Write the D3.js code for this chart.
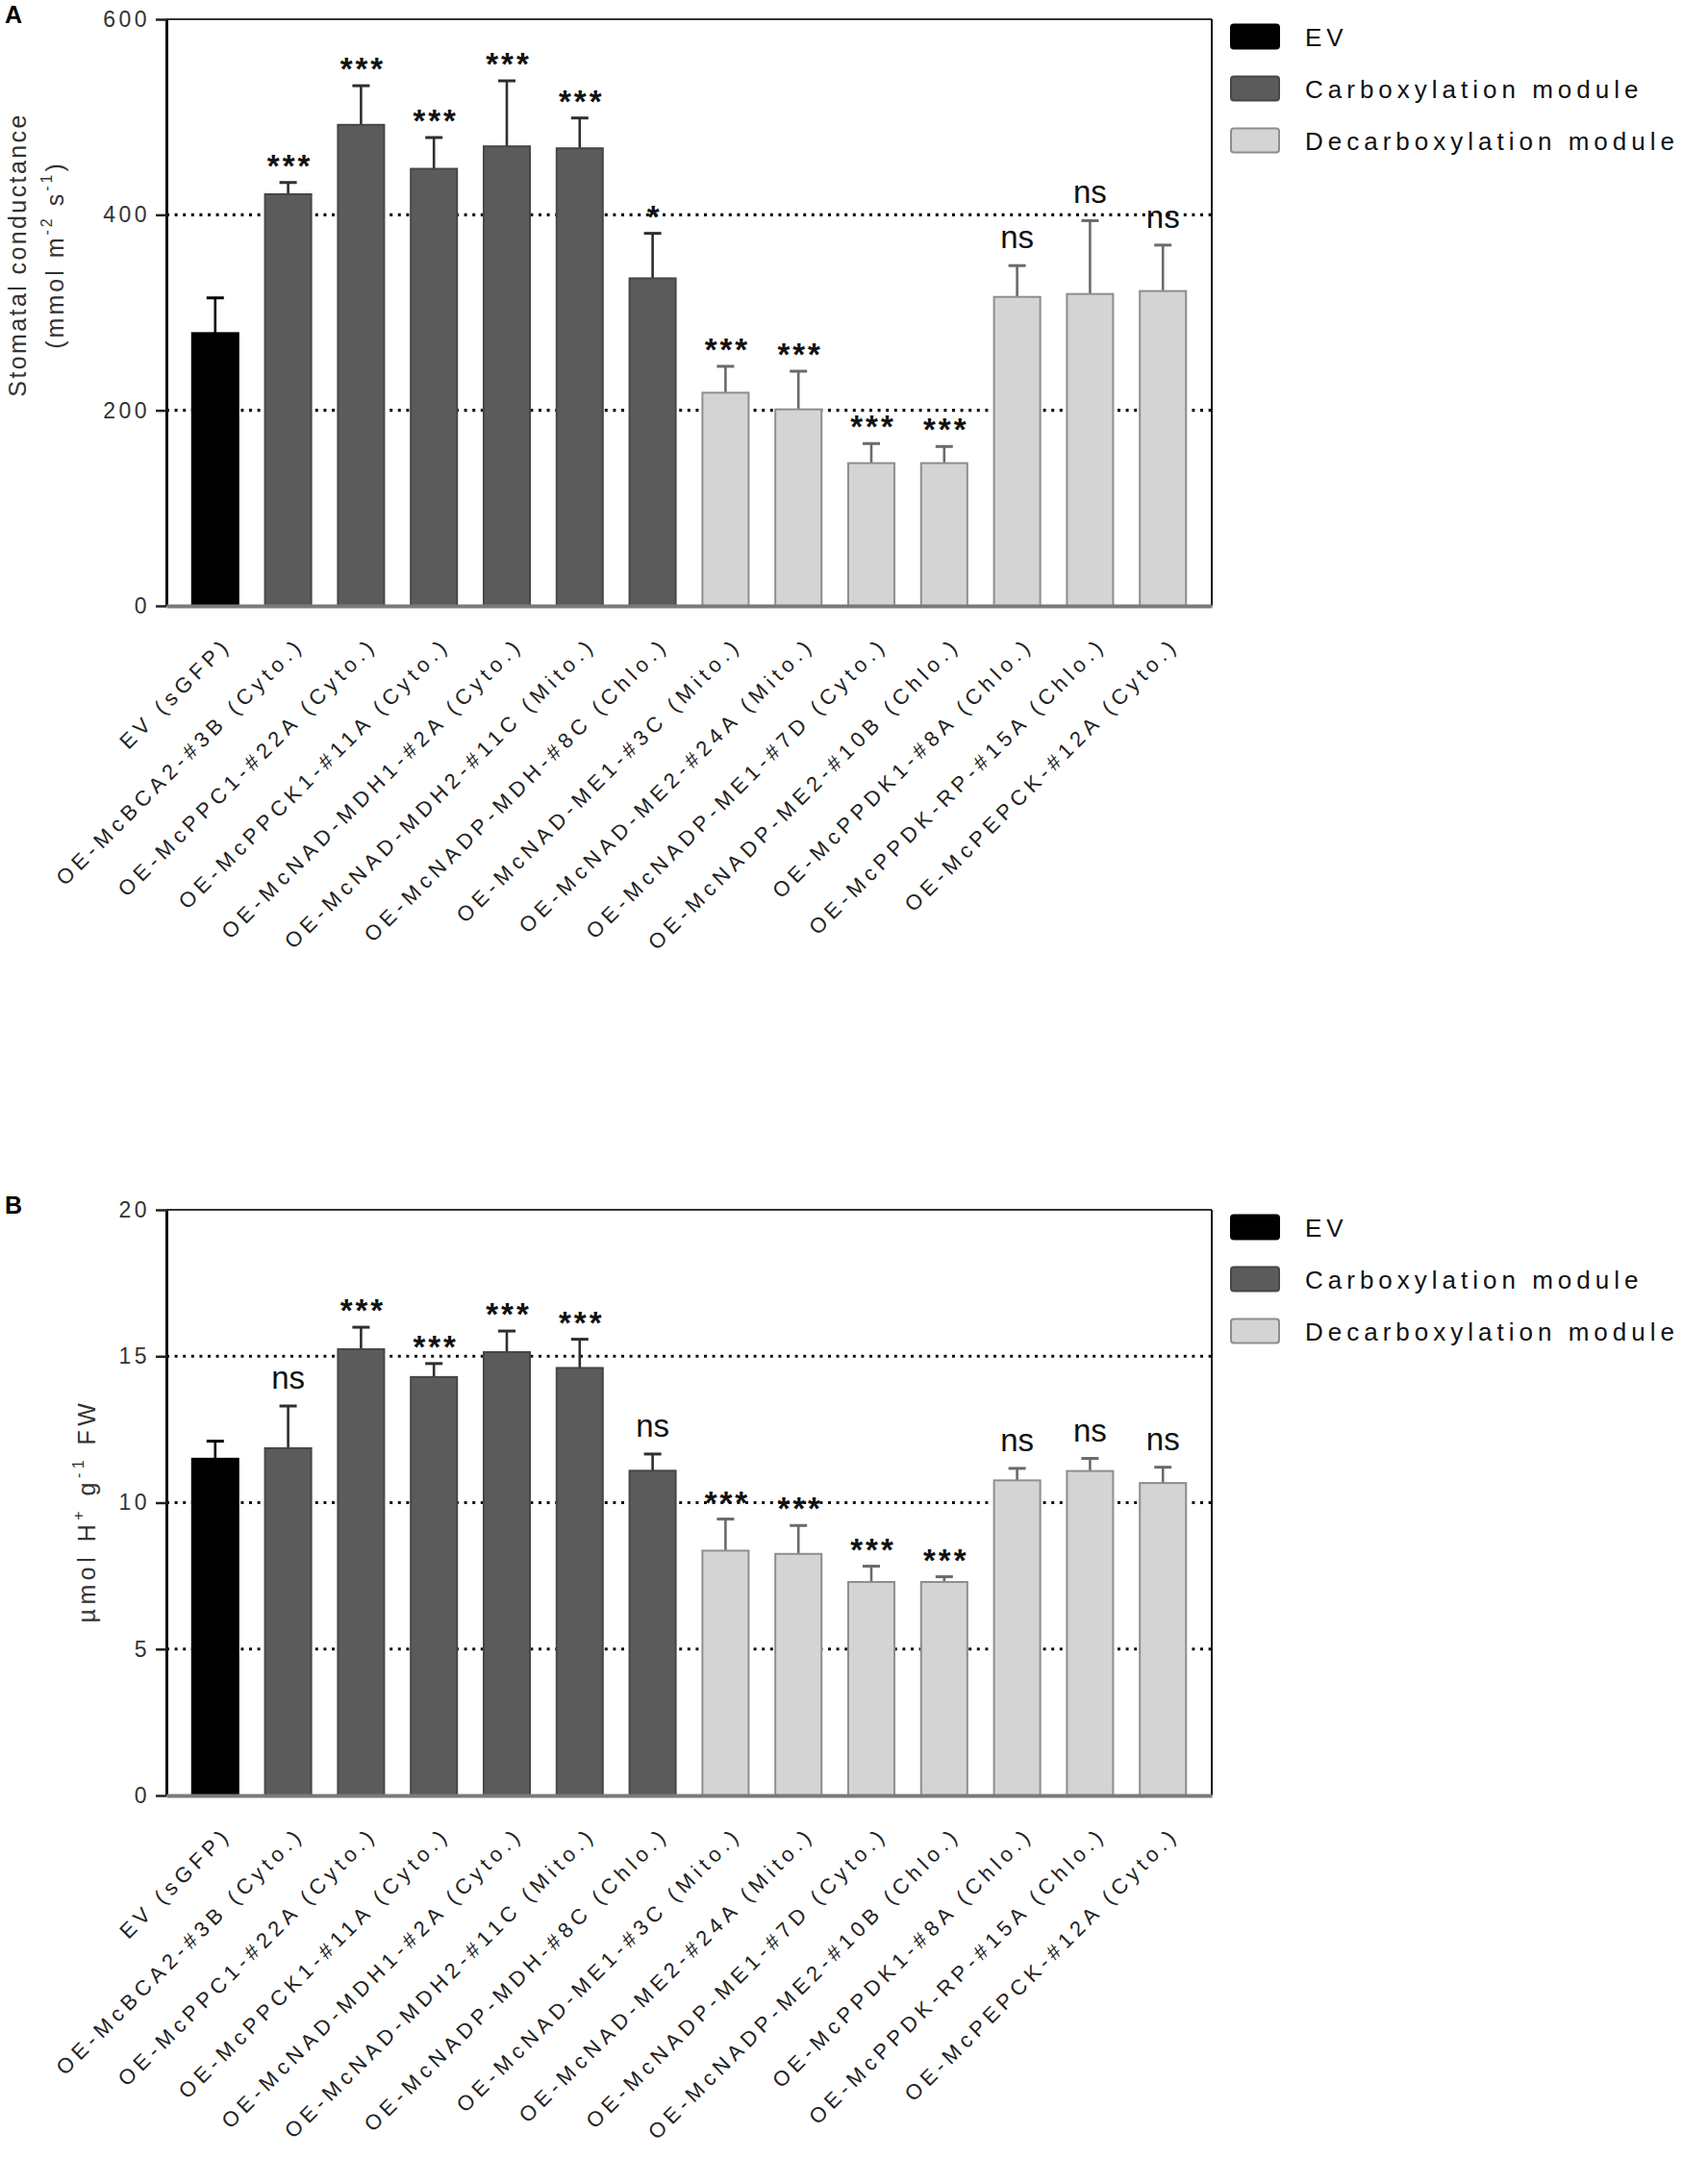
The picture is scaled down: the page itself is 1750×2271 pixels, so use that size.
<!DOCTYPE html>
<html>
<head>
<meta charset="utf-8">
<script src="https://cdn.jsdelivr.net/npm/d3@7"></script>
<style>
  html, body { margin: 0; padding: 0; background: #fff; }
  svg { display: block; }
  text { font-family: "Liberation Sans", Arial, Helvetica, sans-serif; }
</style>
</head>
<body>
<svg id="chart" width="1750" height="2271"></svg>
<script>
// ---------------- DATA ----------------
const categories = [
  "EV (sGFP)",
  "OE-McBCA2-#3B (Cyto.)",
  "OE-McPPC1-#22A (Cyto.)",
  "OE-McPPCK1-#11A (Cyto.)",
  "OE-McNAD-MDH1-#2A (Cyto.)",
  "OE-McNAD-MDH2-#11C (Mito.)",
  "OE-McNADP-MDH-#8C (Chlo.)",
  "OE-McNAD-ME1-#3C (Mito.)",
  "OE-McNAD-ME2-#24A (Mito.)",
  "OE-McNADP-ME1-#7D (Cyto.)",
  "OE-McNADP-ME2-#10B (Chlo.)",
  "OE-McPPDK1-#8A (Chlo.)",
  "OE-McPPDK-RP-#15A (Chlo.)",
  "OE-McPEPCK-#12A (Cyto.)"
];
const modules = ["EV", "Carboxylation module", "Decarboxylation module"];
const categoryModule = [
  "EV",
  "Carboxylation module", "Carboxylation module", "Carboxylation module",
  "Carboxylation module", "Carboxylation module", "Carboxylation module",
  "Decarboxylation module", "Decarboxylation module", "Decarboxylation module",
  "Decarboxylation module", "Decarboxylation module", "Decarboxylation module",
  "Decarboxylation module"
];

// Panel A: stomatal conductance (mmol m-2 s-1)
const conductance    = [279, 421, 492, 447, 470, 468, 335, 218, 201, 146, 146, 316, 319, 322];
const conductanceErr = [36, 12, 40, 32, 67, 31, 46, 27, 39, 20, 17, 32, 75, 47];
const conductanceSig = ["", "***", "***", "***", "***", "***", "*", "***", "***", "***", "***", "ns", "ns", "ns"];
const conductanceTicks = [0, 200, 400, 600];
const conductanceGrid  = [200, 400];

// Panel B: titratable acidity (umol H+ g-1 FW)
const acidity    = [11.50, 11.86, 15.24, 14.29, 15.14, 14.60, 11.09, 8.36, 8.25, 7.29, 7.29, 10.76, 11.08, 10.67];
const acidityErr = [0.60, 1.44, 0.75, 0.46, 0.72, 0.98, 0.57, 1.08, 0.97, 0.54, 0.18, 0.41, 0.43, 0.54];
const aciditySig = ["", "ns", "***", "***", "***", "***", "ns", "***", "***", "***", "***", "ns", "ns", "ns"];
const acidityTicks = [0, 5, 10, 15, 20];
const acidityGrid  = [5, 10, 15];

// ---------------- STYLE ----------------
const fillOf   = d3.scaleOrdinal().domain(modules).range(["#000000", "#5b5b5b", "#d4d4d4"]);
const strokeOf = d3.scaleOrdinal().domain(modules).range(["#000000", "#474747", "#8e8e8e"]);
const errOf    = d3.scaleOrdinal().domain(modules).range(["#000000", "#2e2e2e", "#6a6a6a"]);

const svg = d3.select("#chart");
svg.append("rect").attr("width", 1750).attr("height", 2271).attr("fill", "#fff");

const plotLeft = 173, plotRight = 1260;

function drawPanel(cfg) {
  const g = svg.append("g");
  const x = d3.scaleBand().domain(categories).range([plotLeft, plotRight])
    .paddingInner(0.34).paddingOuter(0.34);
  const y = d3.scaleLinear().domain([0, cfg.max]).range([cfg.bottom, cfg.top]);

  // dotted reference lines (behind bars)
  g.selectAll(".grid").data(cfg.grid).join("line")
    .attr("x1", plotLeft).attr("x2", plotRight)
    .attr("y1", d => y(d)).attr("y2", d => y(d))
    .attr("stroke", "#111").attr("stroke-width", 3.2)
    .attr("stroke-dasharray", "3,5.6");

  // frame top & right
  g.append("line").attr("x1", plotLeft).attr("x2", plotRight)
    .attr("y1", y(cfg.max)).attr("y2", y(cfg.max))
    .attr("stroke", "#333").attr("stroke-width", 2);
  g.append("line").attr("x1", plotRight).attr("x2", plotRight)
    .attr("y1", y(cfg.max)).attr("y2", y(0))
    .attr("stroke", "#111").attr("stroke-width", 2);

  const data = categories.map((c, i) => ({
    c, v: cfg.values[i], e: cfg.errs[i], s: cfg.sig[i], m: categoryModule[i]
  }));

  // error bars
  const eb = g.selectAll(".err").data(data).join("g");
  eb.append("line")
    .attr("x1", d => x(d.c) + x.bandwidth() / 2).attr("x2", d => x(d.c) + x.bandwidth() / 2)
    .attr("y1", d => y(d.v)).attr("y2", d => y(d.v + d.e))
    .attr("stroke", d => errOf(d.m)).attr("stroke-width", 2.6);
  eb.append("line")
    .attr("x1", d => x(d.c) + x.bandwidth() / 2 - 9).attr("x2", d => x(d.c) + x.bandwidth() / 2 + 9)
    .attr("y1", d => y(d.v + d.e)).attr("y2", d => y(d.v + d.e))
    .attr("stroke", d => errOf(d.m)).attr("stroke-width", 3);

  // bars
  g.selectAll(".bar").data(data).join("rect")
    .attr("x", d => x(d.c) + 1).attr("width", x.bandwidth() - 2)
    .attr("y", d => y(d.v)).attr("height", d => y(0) - y(d.v))
    .attr("fill", d => fillOf(d.m))
    .attr("stroke", d => strokeOf(d.m)).attr("stroke-width", 2);

  // significance labels
  g.selectAll(".sig").data(data.filter(d => d.s)).join("text")
    .attr("x", d => x(d.c) + x.bandwidth() / 2 + (d.s === "ns" ? 0 : 2))
    .attr("y", d => y(d.v + d.e) - (d.s === "ns" ? 18 : 6))
    .attr("text-anchor", "middle")
    .attr("font-size", d => d.s === "ns" ? 33 : 33)
    .attr("font-weight", d => d.s === "ns" ? "normal" : "bold")
    .attr("letter-spacing", d => d.s === "ns" ? 0 : 3)
    .attr("fill", "#111")
    .text(d => d.s);

  // left axis
  const ya = g.append("g").attr("transform", `translate(${plotLeft},0)`)
    .call(d3.axisLeft(y).tickValues(cfg.ticks).tickSize(11).tickPadding(9).tickSizeOuter(0));
  ya.select(".domain").attr("stroke", "#111").attr("stroke-width", 3);
  ya.selectAll(".tick line").attr("stroke", "#222").attr("stroke-width", 2.5);
  ya.selectAll(".tick text").attr("font-size", 23).attr("letter-spacing", 3.5)
    .attr("fill", "#333").attr("dx", 3)
    .style("font-family", "'Liberation Sans', Arial, sans-serif");

  // bottom axis
  const xa = g.append("g").attr("transform", `translate(0,${y(0)})`)
    .call(d3.axisBottom(x).tickSize(0).tickSizeOuter(0));
  xa.select(".domain").attr("stroke", "#7a7a7a").attr("stroke-width", 4);
  xa.selectAll(".tick text")
    .attr("x", 0).attr("y", 0).attr("dy", 0)
    .attr("text-anchor", "end")
    .attr("transform", "translate(18,42) rotate(-45)")
    .attr("font-size", 22).attr("letter-spacing", 5.2)
    .attr("fill", "#222")
    .style("font-family", "'Liberation Sans', Arial, sans-serif");

  // legend
  const lg = g.append("g");
  modules.forEach((m, i) => {
    const cy = cfg.top + 18 + i * 54;
    lg.append("rect").attr("x", 1280).attr("y", cy - 12.5).attr("width", 50).attr("height", 25)
      .attr("rx", 3)
      .attr("fill", fillOf(m)).attr("stroke", strokeOf(m)).attr("stroke-width", 2);
    lg.append("text").attr("x", 1357).attr("y", cy + 9.5)
      .attr("font-size", 26).attr("letter-spacing", 5).attr("fill", "#111").text(m);
  });

  // panel letter
  g.append("text").attr("x", 5).attr("y", cfg.top + 4).attr("font-size", 25)
    .attr("font-weight", "bold").attr("fill", "#000").text(cfg.letter);

  cfg.title(g, y);
}

drawPanel({
  letter: "A", top: 20, bottom: 630, max: 600,
  values: conductance, errs: conductanceErr, sig: conductanceSig,
  ticks: conductanceTicks, grid: conductanceGrid,
  title: (g) => {
    const cy = 265;
    g.append("text").attr("transform", `translate(27,${cy}) rotate(-90)`)
      .attr("text-anchor", "middle").attr("font-size", 25).attr("letter-spacing", 2.4)
      .attr("fill", "#333").text("Stomatal conductance");
    const t = g.append("text").attr("transform", `translate(66,${cy}) rotate(-90)`)
      .attr("text-anchor", "middle").attr("font-size", 25).attr("letter-spacing", 3)
      .attr("fill", "#333");
    t.append("tspan").text("(mmol m");
    t.append("tspan").attr("dy", -12).attr("font-size", 16).text("-2");
    t.append("tspan").attr("dy", 12).text(" s");
    t.append("tspan").attr("dy", -12).attr("font-size", 16).text("-1");
    t.append("tspan").attr("dy", 12).text(")");
  }
});

drawPanel({
  letter: "B", top: 1258, bottom: 1867, max: 20,
  values: acidity, errs: acidityErr, sig: aciditySig,
  ticks: acidityTicks, grid: acidityGrid,
  title: (g) => {
    const t = g.append("text").attr("transform", `translate(99,1571) rotate(-90)`)
      .attr("text-anchor", "middle").attr("font-size", 25).attr("letter-spacing", 4.5)
      .attr("fill", "#333");
    t.append("tspan").text("\u00b5mol H");
    t.append("tspan").attr("dy", -12).attr("font-size", 16).text("+");
    t.append("tspan").attr("dy", 12).text(" g");
    t.append("tspan").attr("dy", -12).attr("font-size", 16).text("-1");
    t.append("tspan").attr("dy", 12).text(" FW");
  }
});
</script>
</body>
</html>
